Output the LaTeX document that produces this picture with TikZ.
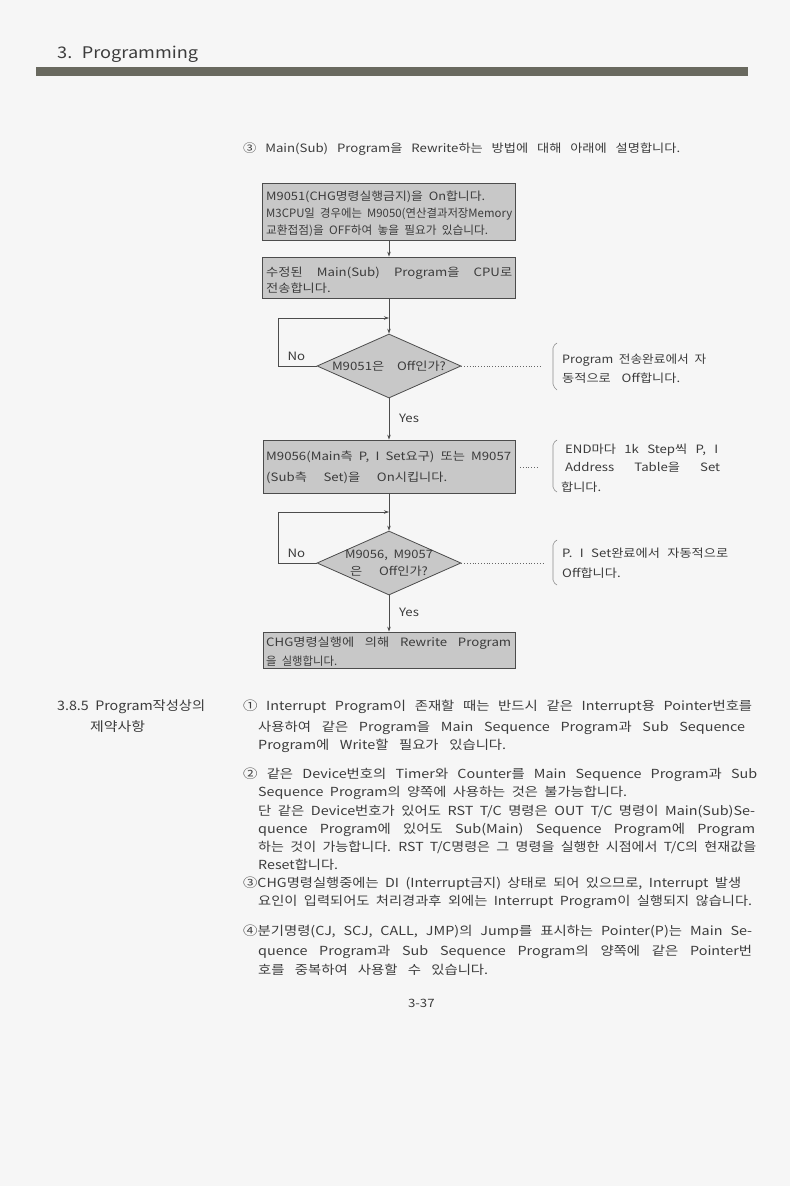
\documentclass[tikz,border=0pt]{standalone}
\usepackage{graphicx}
\usepackage{fontspec}
\setmainfont{Noto Sans CJK KR}
\usetikzlibrary{shapes.geometric,arrows.meta}
\definecolor{pagebg}{RGB}{246,246,246}
\definecolor{barc}{RGB}{105,105,95}
\definecolor{boxfill}{RGB}{200,200,200}
\definecolor{ink}{RGB}{60,60,60}
\newsavebox\jbox
\newlength\jw
\newlength\jwi
\newcommand\jl[2]{%
 \setlength\jw{#1pt}%
 \sbox\jbox{\spaceskip=0.45em plus 1fil\relax #2}%
 \pgfmathsetmacro\jr{min(\the\jw/\the\wd\jbox,1.15)}%
 \pgfmathsetlength\jwi{\the\jw/\jr}%
 \scalebox{\jr}[1]{\makebox[\jwi][s]{\spaceskip=0.45em plus 1fil\relax #2}}}
\tikzset{
 txt/.style={anchor=base west, inner sep=0, text=ink, font=\fontsize{12.5}{14}\selectfont},
 smtxt/.style={txt, font=\fontsize{11.5}{13}\selectfont},
 box/.style={draw=black!70, fill=boxfill, line width=0.8pt, inner sep=0},
 dia/.style={diamond, draw=black!70, fill=boxfill, line width=0.8pt, inner sep=0, minimum width=144, minimum height=64},
 arr/.style={draw=black!70, line width=0.7pt, -{Stealth[length=5pt,width=3.5pt]}},
 dots/.style={draw=black!60, line width=0.8pt, dotted},
 brc/.style={draw=black!45, line width=0.6pt, rounded corners=2pt},
}
\begin{document}
\begin{tikzpicture}[x=1pt,y=-1pt]
\fill[pagebg] (0,0) rectangle (790,1186);
\useasboundingbox (0,0) rectangle (790,1186);
% header
\node[txt, font=\fontsize{16}{18}\selectfont] (hdr) at (57,58) {\jl{141}{3. Programming}};
\fill[barc] (36,67) rectangle (748,76);
% intro
\node[smtxt] (intro) at (243,152) {\jl{437}{③ Main(Sub) Program을 Rewrite하는 방법에 대해 아래에 설명합니다.}};
% boxes
\node[box, minimum width=253, minimum height=57] (b1) at (389,211.5) {};
\node[box, minimum width=253, minimum height=41] (b2) at (389,277.5) {};
\node[dia] (d1) at (389,366) {};
\node[box, minimum width=252, minimum height=53] (b3) at (389,466.5) {};
\node[dia] (d2) at (389,563) {};
\node[box, minimum width=252, minimum height=36] (b4) at (389,650) {};
% box texts
\node[smtxt] (t1a) at (266,200) {\jl{219}{M9051(CHG명령실행금지)을 On합니다.}};
\node[smtxt] (t1b) at (266,217) {\jl{246}{M3CPU일 경우에는 M9050(연산결과저장Memory}};
\node[smtxt] (t1c) at (266,234) {\jl{222}{교환접점)을 OFF하여 놓을 필요가 있습니다.}};
\node[smtxt] (t2a) at (266,276) {\jl{246}{수정된 Main(Sub) Program을 CPU로}};
\node[smtxt] (t2b) at (266,292) {\jl{69}{전송합니다.}};
\node[smtxt, anchor=center] (t3) at (d1.center) {\jl{114}{M9051은 Off인가?}};
\node[smtxt] (t4a) at (266,460) {\jl{245}{M9056(Main측 P, I Set요구) 또는 M9057}};
\node[smtxt] (t4b) at (266,481) {\jl{181}{(Sub측 Set)을 On시킵니다.}};
\node[smtxt, anchor=center, align=center, font=\fontsize{11.5}{17}\selectfont] (t5) at (d2.center) {\jl{88}{M9056, M9057}\\\jl{78}{은 Off인가?}};
\node[smtxt] (t6a) at (266,646) {\jl{245}{CHG명령실행에 의해 Rewrite Program}};
\node[smtxt] (t6b) at (266,665) {\jl{71}{을 실행합니다.}};
% connectors
\coordinate (j1) at (389,318);
\coordinate (l1) at (278,366);
\coordinate (j2) at (389,512);
\coordinate (l2) at (278,563);
\draw[arr] (b1.south) -- (b2.north);
\draw[arr] (b2.south) -- (d1.north);
\draw[arr] (d1.west) -- (l1) |- (j1);
\draw[arr] (d1.south) -- (b3.north);
\draw[arr] (b3.south) -- (d2.north);
\draw[arr] (d2.west) -- (l2) |- (j2);
\draw[arr] (d2.south) -- (b4.north);
\node[smtxt, anchor=center] (no1) at (297,356) {\jl{19}{No}};
\node[smtxt, anchor=center] (no2) at (297,553) {\jl{19}{No}};
\node[smtxt, anchor=center] (yes1) at (411,418) {\jl{24}{Yes}};
\node[smtxt, anchor=center] (yes2) at (411,612) {\jl{24}{Yes}};
% comments
\coordinate (c1) at (541,366);
\coordinate (c2a) at (520,467);
\coordinate (c2b) at (537,467);
\coordinate (c3) at (545,563);
\draw[dots] (d1.east) -- (c1);
\draw[dots] (c2a) -- (c2b);
\draw[dots] (d2.east) -- (c3);
\draw[brc] (557,343) -- (553,346) -- (553,386) -- (557,390);
\draw[brc] (557,440) -- (553,443) -- (553,489) -- (557,492);
\draw[brc] (557,540) -- (553,543) -- (553,582) -- (557,585);
\node[smtxt] (k1a) at (562,363) {\jl{144}{Program 전송완료에서 자}};
\node[smtxt] (k1b) at (562,382) {\jl{118}{동적으로 Off합니다.}};
\node[smtxt] (k2a) at (565,453) {\jl{153}{END마다 1k Step씩 P, I}};
\node[smtxt] (k2b) at (565,471) {\jl{155}{Address Table을 Set}};
\node[smtxt] (k2c) at (561,491) {\jl{40}{합니다.}};
\node[smtxt] (k3a) at (562,557) {\jl{166}{P. I Set완료에서 자동적으로}};
\node[smtxt] (k3b) at (562,577) {\jl{70}{Off합니다.}};
% section heading
\node[txt, font=\fontsize{13}{15}\selectfont] (h1) at (57,710) {\jl{148}{3.8.5 Program작성상의}};
\node[txt, font=\fontsize{13}{15}\selectfont] (h2) at (90,731) {\jl{60}{제약사항}};
% item 1
\node[txt] (p1a) at (243,710) {\jl{509}{① Interrupt Program이 존재할 때는 반드시 같은 Interrupt용 Pointer번호를}};
\node[txt] (p1b) at (258,731) {\jl{487}{사용하여 같은 Program을 Main Sequence Program과 Sub Sequence}};
\node[txt] (p1c) at (258,749) {\jl{248}{Program에 Write할 필요가 있습니다.}};
% item 2
\node[txt] (p2a) at (243,778) {\jl{514}{② 같은 Device번호의 Timer와 Counter를 Main Sequence Program과 Sub}};
\node[txt] (p2b) at (258,796) {\jl{369}{Sequence Program의 양쪽에 사용하는 것은 불가능합니다.}};
\node[txt] (p2c) at (258,815) {\jl{497}{단 같은 Device번호가 있어도 RST T/C 명령은 OUT T/C 명령이 Main(Sub)Se-}};
\node[txt] (p2d) at (258,833) {\jl{497}{quence Program에 있어도 Sub(Main) Sequence Program에 Program}};
\node[txt] (p2e) at (258,851) {\jl{498}{하는 것이 가능합니다. RST T/C명령은 그 명령을 실행한 시점에서 T/C의 현재값을}};
\node[txt] (p2f) at (258,869) {\jl{80}{Reset합니다.}};
% item 3
\node[txt] (p3a) at (243,887) {\jl{498}{③CHG명령실행중에는 DI (Interrupt금지) 상태로 되어 있으므로, Interrupt 발생}};
\node[txt] (p3b) at (258,905) {\jl{494}{요인이 입력되어도 처리경과후 외에는 Interrupt Program이 실행되지 않습니다.}};
% item 4
\node[txt] (p4a) at (243,935) {\jl{509}{④분기명령(CJ, SCJ, CALL, JMP)의 Jump를 표시하는 Pointer(P)는 Main Se-}};
\node[txt] (p4b) at (258,955) {\jl{494}{quence Program과 Sub Sequence Program의 양쪽에 같은 Pointer번}};
\node[txt] (p4c) at (258,974) {\jl{230}{호를 중복하여 사용할 수 있습니다.}};
% page number
\node[txt, anchor=base, font=\fontsize{11.5}{13}\selectfont] (pg) at (424,1007) {\jl{32}{3-37}};
\end{tikzpicture}
\end{document}
